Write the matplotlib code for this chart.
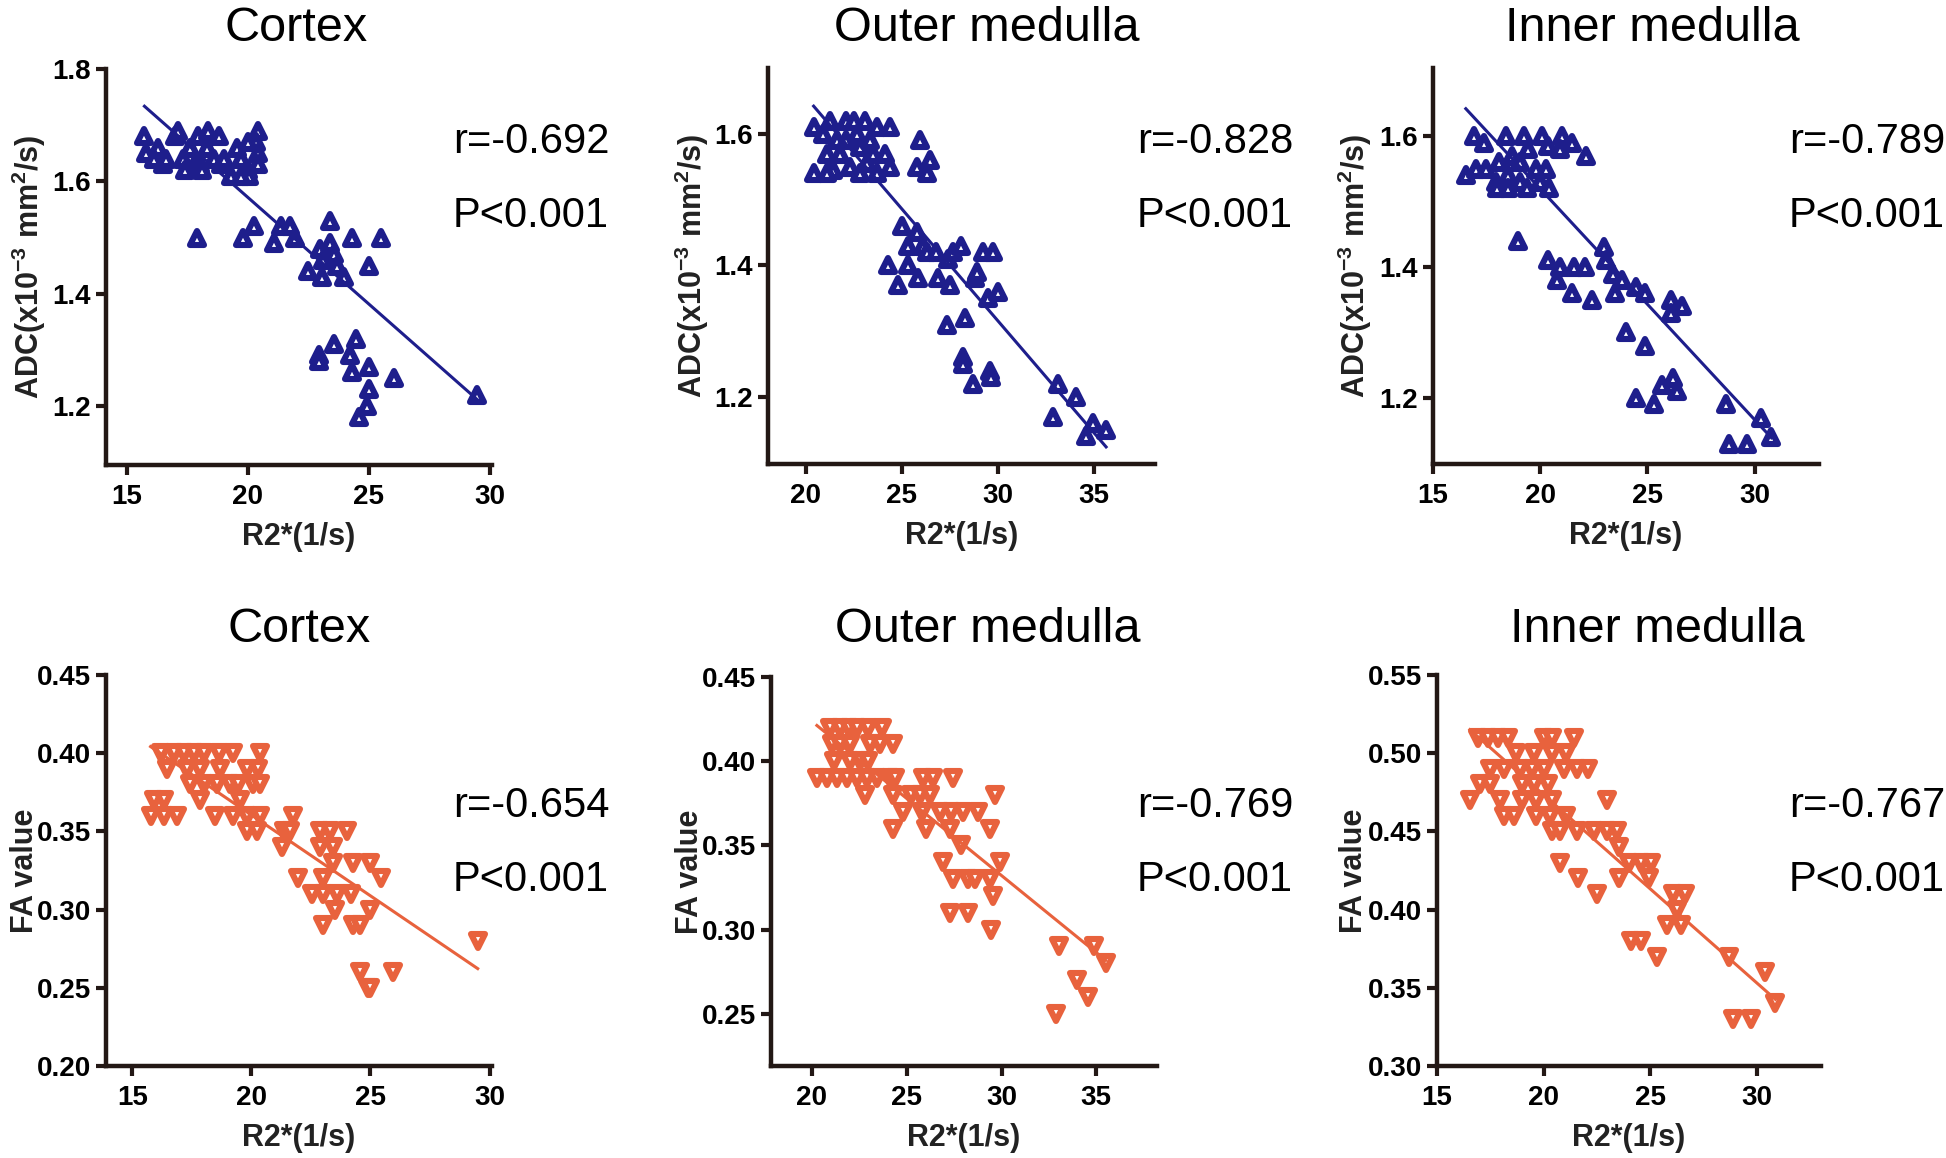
import numpy as np
import matplotlib
matplotlib.use("Agg")
import matplotlib.pyplot as plt
from matplotlib.markers import MarkerStyle

plt.rcParams['font.family'] = ['Liberation Sans', 'DejaVu Sans']
plt.rcParams['mathtext.fontset'] = 'custom'
plt.rcParams['mathtext.bf'] = 'Liberation Sans:bold'
plt.rcParams['mathtext.rm'] = 'Liberation Sans:bold'
plt.rcParams['mathtext.default'] = 'bf'

W, H = 1946, 1158

# ---- ADC vs R2* (top row) ----
cortex_adc_x = [15.72, 15.8, 16.3, 16.5, 17.0, 17.1, 17.6, 17.8, 17.95, 18.35, 18.8, 18.6, 18.3, 18.9,
                19.3, 19.55, 19.7, 20.0, 20.05, 20.4, 20.35, 20.4, 20.4, 20.0, 16.1, 16.6, 17.3, 18.0,
                17.4, 18.1, 19.0, 19.7,
                17.9, 19.79, 20.24, 21.1, 21.35, 21.76, 21.97, 22.5, 23.0, 23.07, 23.4, 23.4, 23.55,
                23.1, 23.7, 23.97, 24.3, 25.0, 25.5, 29.5,
                22.95, 22.93, 23.55, 24.49, 24.24, 24.3, 25.0, 26.03, 25.0, 24.93, 24.59]
cortex_adc_y = [1.68, 1.65, 1.66, 1.63, 1.68, 1.69, 1.66, 1.63, 1.68, 1.69, 1.68, 1.64, 1.66, 1.63,
                1.61, 1.66, 1.64, 1.62, 1.61, 1.69, 1.67, 1.65, 1.63, 1.67, 1.64, 1.64, 1.64, 1.63,
                1.62, 1.62, 1.64, 1.61,
                1.50, 1.50, 1.52, 1.49, 1.52, 1.52, 1.50, 1.44, 1.48, 1.43, 1.53, 1.49, 1.47,
                1.46, 1.45, 1.43, 1.50, 1.45, 1.50, 1.22,
                1.29, 1.28, 1.31, 1.32, 1.29, 1.26, 1.27, 1.25, 1.23, 1.20, 1.18]

outer_adc_x = [20.4, 20.4, 21.27, 21.1, 21.6, 22.1, 22.5, 23.1, 23.7, 24.4, 24.1, 24.4, 23.5, 22.8,
               22.1, 21.8, 22.3, 21.4, 22.8, 23.7, 21.1, 23.2, 22.65, 23.35, 20.9,
               25.94, 25.77, 26.46, 26.3, 24.99, 25.77, 25.34, 26.1, 26.3, 26.8, 27.4, 27.68, 28.1,
               29.24, 29.76, 24.3, 25.34, 25.86, 24.8, 26.9, 27.5, 28.8, 28.9, 29.5, 30.0,
               27.33, 28.28, 28.2, 28.2, 28.7, 29.58, 29.67, 33.14, 32.88, 34.1, 34.96, 34.6, 35.65]
outer_adc_y = [1.61, 1.54, 1.62, 1.57, 1.59, 1.62, 1.62, 1.62, 1.61, 1.61, 1.57, 1.55, 1.57, 1.58,
               1.59, 1.57, 1.55, 1.545, 1.54, 1.54, 1.54, 1.555, 1.60, 1.59, 1.60,
               1.59, 1.55, 1.56, 1.54, 1.46, 1.45, 1.43, 1.43, 1.42, 1.42, 1.41, 1.42, 1.43,
               1.42, 1.42, 1.40, 1.40, 1.38, 1.37, 1.38, 1.37, 1.38, 1.39, 1.35, 1.36,
               1.31, 1.32, 1.26, 1.25, 1.22, 1.24, 1.23, 1.22, 1.17, 1.20, 1.16, 1.14, 1.15]

inner_adc_x = [16.53, 17.0, 16.9, 17.46, 17.37, 17.93, 18.4, 19.23, 20.07, 21.0, 21.47, 20.9, 20.35,
               22.12, 18.1, 18.67, 19.42, 19.8, 20.25, 18.48, 19.04, 19.4, 18.5, 19.98, 20.4, 18.0,
               19.04,
               18.95, 20.35, 20.9, 20.8, 21.56, 22.1, 22.96, 23.05, 23.4, 23.8, 21.47, 22.4, 23.5,
               24.45, 24.9, 26.1, 26.6, 26.1, 23.98, 24.9, 25.66, 26.2, 26.4, 24.45, 25.3, 28.64,
               30.3, 28.8, 29.66, 30.78]
inner_adc_y = [1.54, 1.55, 1.60, 1.55, 1.59, 1.53, 1.60, 1.60, 1.60, 1.60, 1.59, 1.58, 1.585,
               1.57, 1.56, 1.57, 1.58, 1.55, 1.55, 1.54, 1.53, 1.52, 1.52, 1.53, 1.52, 1.52,
               1.56,
               1.44, 1.41, 1.40, 1.38, 1.40, 1.40, 1.43, 1.41, 1.39, 1.38, 1.36, 1.35, 1.36,
               1.37, 1.36, 1.35, 1.34, 1.33, 1.30, 1.28, 1.22, 1.23, 1.21, 1.20, 1.19, 1.19,
               1.17, 1.13, 1.13, 1.14]

# ---- FA vs R2* (bottom row) ----
cortex_fa_x = [16.19, 16.74, 17.16, 17.58, 18.0, 18.63, 19.25, 20.37,
               16.46, 17.3, 17.86, 18.7, 19.81, 20.3,
               17.44, 18.0, 18.56, 19.11, 19.46, 20.09, 20.37,
               15.9, 16.32, 17.86, 19.53,
               15.77, 16.32, 16.88, 18.49, 19.25, 19.81, 20.37, 21.76,
               19.81, 20.23, 21.35, 21.62, 22.88, 23.3, 24.0,
               21.28, 22.88, 23.44,
               23.44, 24.27, 24.97,
               21.97, 23.0, 25.46,
               22.53, 23.02, 23.58, 24.2,
               23.5, 24.97,
               23.02, 24.27, 24.55,
               29.5, 24.55, 25.95, 24.9, 24.97]
cortex_fa_y = [0.40] * 8 + [0.39] * 6 + [0.38] * 7 + [0.37] * 4 + [0.36] * 8 + [0.35] * 7 + \
              [0.34] * 3 + [0.33] * 3 + [0.32] * 3 + [0.31] * 4 + [0.30] * 2 + [0.29] * 3 + \
              [0.28, 0.26, 0.26, 0.25, 0.25]

outer_fa_x = [20.96, 21.49, 21.93, 22.36, 22.98, 23.68,
              21.05, 21.49, 22.0, 23.06, 23.59, 24.29,
              21.14, 22.0, 22.54, 22.98,
              20.26, 20.79, 21.31, 21.84, 22.36, 22.89, 23.42, 24.12, 24.38, 25.87, 26.39, 27.44,
              22.8, 24.29, 25.25, 25.69, 26.22, 29.63,
              24.82, 25.78, 26.74, 27.36, 27.97, 28.76,
              24.29, 26.04, 27.27, 29.37,
              27.88, 26.92, 29.9,
              27.44, 28.23, 28.58, 29.37,
              29.54, 27.27, 28.23, 29.46,
              33.05, 34.89, 35.5, 34.0, 34.54, 32.87]
outer_fa_y = [0.42] * 6 + [0.41] * 6 + [0.40] * 4 + [0.39] * 12 + [0.38] * 6 + [0.37] * 6 + \
             [0.36] * 4 + [0.35, 0.34, 0.34] + [0.33] * 4 + [0.32, 0.31, 0.31, 0.30] + \
             [0.29, 0.29, 0.28, 0.27, 0.26, 0.25]

inner_fa_x = [16.92, 17.39, 17.86, 18.33, 20.03, 20.4, 21.44,
              18.71, 19.56, 20.4, 21.06,
              17.49, 18.14, 18.9, 19.46, 20.03, 20.97, 21.54, 22.1,
              17.0, 17.49, 18.99, 19.56, 20.22,
              16.54, 17.96, 18.99, 19.65, 20.4, 22.95,
              18.14, 18.62, 19.65, 20.31, 21.06,
              20.4, 20.78, 21.54, 22.38, 22.95, 23.42,
              23.51,
              20.78, 23.98, 24.55, 25.02,
              21.63, 23.51, 24.92,
              22.48, 26.05, 26.62,
              26.24, 25.77, 26.43, 24.08, 24.55, 25.3, 28.69, 30.39, 30.86, 28.88, 29.73]
inner_fa_y = [0.51] * 7 + [0.50] * 4 + [0.49] * 8 + [0.48] * 5 + [0.47] * 6 + [0.46] * 5 + \
             [0.45] * 6 + [0.44] + [0.43] * 4 + [0.42] * 3 + [0.41] * 3 + \
             [0.40, 0.39, 0.39, 0.38, 0.38, 0.37, 0.37, 0.36, 0.34, 0.33, 0.33]

# regression lines (slope, intercept)
fits = [(-0.03793, 2.330), (-0.03397, 2.335), (-0.03528, 2.225),
        (-0.01034, 0.5673), (-0.00915, 0.6066), (-0.01204, 0.7142)]
r_text = ['r=-0.692', 'r=-0.828', 'r=-0.789', 'r=-0.654', 'r=-0.769', 'r=-0.767']
titles = ['Cortex', 'Outer medulla', 'Inner medulla'] * 2

xs = [cortex_adc_x, outer_adc_x, inner_adc_x, cortex_fa_x, outer_fa_x, inner_fa_x]
ys = [cortex_adc_y, outer_adc_y, inner_adc_y, cortex_fa_y, outer_fa_y, inner_fa_y]

navy = '#1E1E8C'
orange = '#E8623D'
axcol = '#231815'

# axes rectangles in pixels: left, right, top, bottom
boxes = [(106, 492, 69, 465), (768, 1155, 68, 464), (1433, 1819, 68, 464),
         (106, 492, 675, 1066), (771, 1157, 677, 1066), (1437, 1821, 675, 1066)]
xlims = [(14.13, 30.1), (18.02, 38.2), (15.0, 33.0), (13.9, 30.1), (17.84, 38.2), (15.0, 33.0)]
ylims = [(1.095, 1.8), (1.098, 1.70), (1.099, 1.704), (0.20, 0.45), (0.219, 0.45), (0.30, 0.55)]
xticks = [[15, 20, 25, 30], [20, 25, 30, 35], [15, 20, 25, 30]] * 2
yticks = [[1.2, 1.4, 1.6, 1.8], [1.2, 1.4, 1.6], [1.2, 1.4, 1.6],
          [0.20, 0.25, 0.30, 0.35, 0.40, 0.45], [0.25, 0.30, 0.35, 0.40, 0.45],
          [0.30, 0.35, 0.40, 0.45, 0.50, 0.55]]
ylab_x = [-0.15, -0.148, -0.154, -0.17, -0.172, -0.176]
title_pos = [(296, 41), (987, 41), (1652, 41), (299, 642), (988, 642), (1657, 642)]
rx = [453, 1137, 1789] * 2
rbase = [153, 153, 153, 817, 817, 817]

fig = plt.figure(figsize=(W / 100, H / 100), dpi=100)

for i in range(6):
    l, r, t, b = boxes[i]
    ax = fig.add_axes([l / W, 1 - b / H, (r - l) / W, (b - t) / H])
    top = i < 3
    col = navy if top else orange
    mk = MarkerStyle('^' if top else 'v', joinstyle='round')
    ax.plot(xs[i], ys[i], linestyle='none', marker=mk, ms=9.5, mew=4.4,
            mfc='white', mec=col, clip_on=False, zorder=3)
    slope, icpt = fits[i]
    lx = np.array([min(xs[i]), max(xs[i])])
    ax.plot(lx, icpt + slope * lx, color=col, lw=2.2, zorder=4)

    ax.set_xlim(*xlims[i])
    ax.set_ylim(*ylims[i])
    ax.set_xticks(xticks[i])
    ax.set_yticks(yticks[i])
    fmt = '%.1f' if top else '%.2f'
    ax.set_yticklabels([fmt % v for v in yticks[i]])
    for s in ['top', 'right']:
        ax.spines[s].set_visible(False)
    for s in ['left', 'bottom']:
        ax.spines[s].set_linewidth(3.2)
        ax.spines[s].set_color(axcol)
        ax.spines[s].set_capstyle('projecting')
    ax.tick_params(direction='out', length=7, width=3, color=axcol,
                   labelsize=20, pad=4)
    ax.tick_params(axis='x', pad=7)
    for lab in ax.get_xticklabels() + ax.get_yticklabels():
        lab.set_fontweight('bold')
    ax.set_xlabel('R2*(1/s)', fontsize=22, fontweight='bold', color='#222222', labelpad=8)
    if top:
        ax.set_ylabel('ADC(x10$^{-3}$ mm$^{2}$/s)', fontsize=22, fontweight='bold',
                      color='#222222')
    else:
        ax.set_ylabel('FA value', fontsize=22, fontweight='bold', color='#222222')
    ax.yaxis.set_label_coords(ylab_x[i], 0.5)
    ax.patch.set_alpha(0)

    tx, ty = title_pos[i]
    fig.text(tx / W, 1 - ty / H, titles[i], fontsize=35, ha='center', va='baseline')
    fig.text(rx[i] / W, 1 - rbase[i] / H, r_text[i], fontsize=30, ha='left', va='baseline')
    fig.text(rx[i] / W, 1 - (rbase[i] + 74) / H, 'P<0.001', fontsize=30, ha='left', va='baseline')

fig.savefig('out.png', dpi=100)
